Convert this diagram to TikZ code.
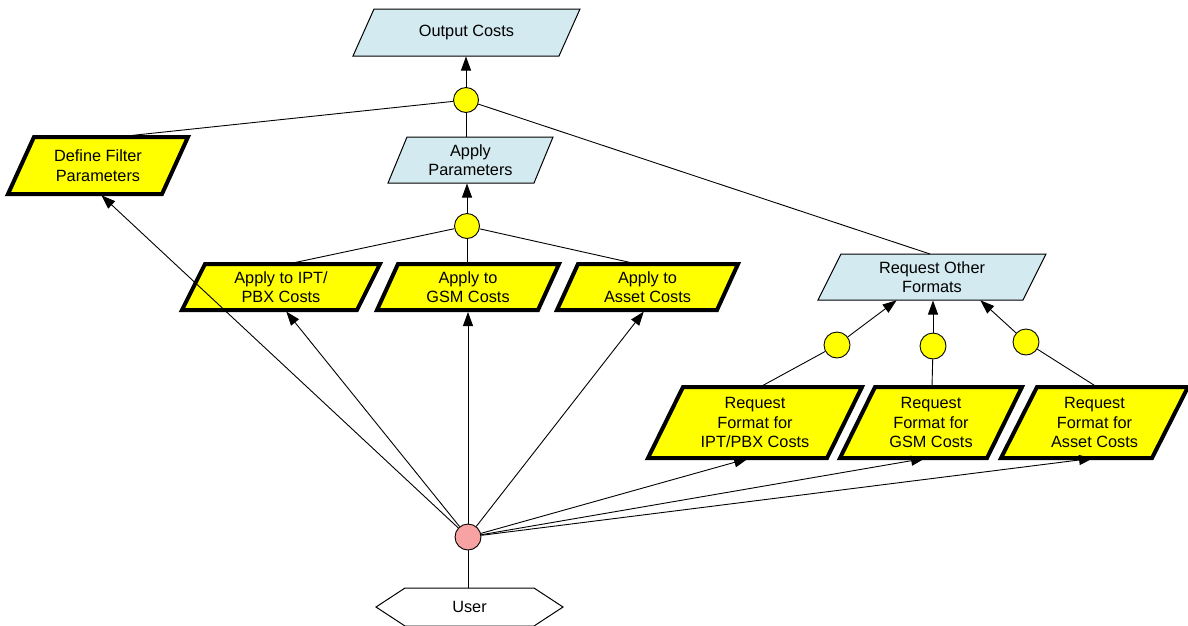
\documentclass[tikz,border=0pt]{standalone}
\usepackage{fontspec}
\setmainfont{Liberation Sans}
\usetikzlibrary{arrows.meta,calc}
\pgfdeclarelayer{background}
\pgfsetlayers{background,main}

\definecolor{taskyellow}{RGB}{255,255,0}
\definecolor{datablue}{RGB}{211,234,240}
\definecolor{actorpink}{RGB}{247,163,163}

% parallelogram drawn on the bounding box of a node: #1 node, #2 slant, #3 style
\newcommand\drawpara[3]{%
  \path[#3] ($(#1.north west)+(#2,0)$) -- (#1.north east)
    -- ($(#1.south east)+(-#2,0)$) -- (#1.south west) -- cycle;}

\tikzset{
  lbl/.style={shape=rectangle, inner sep=0pt, outer sep=0pt, align=center,
    font=\fontsize{16.3}{19.5}\selectfont},
  taskfill/.style={fill=taskyellow, draw=black, line width=4pt, line join=miter},
  datafill/.style={fill=datablue, draw=black, line width=1pt},
  junction/.style={circle, draw=black, line width=0.9pt, fill=taskyellow,
    minimum size=25pt, inner sep=0pt},
  actor/.style={circle, draw=black, line width=0.9pt, fill=actorpink,
    minimum size=26pt, inner sep=0pt},
  link/.style={draw=black, line width=0.9pt},
  flow/.style={link, -{Triangle[length=14pt,width=10pt]}},
  tothick/.style={shorten >=2pt},
}

\begin{document}
\begin{tikzpicture}[x=1pt,y=-1pt]
\useasboundingbox (0,0) rectangle (1188,625);

% data nodes
\node[lbl, minimum width=227pt, minimum height=47pt] (out) at (466.5,32.5) {Output Costs};
\node[lbl, minimum width=165pt, minimum height=46pt] (app) at (470.5,160) {Apply\\Parameters};
\node[lbl, minimum width=228pt, minimum height=46pt] (rof) at (932,277) {Request Other\\Formats};

% task nodes
\node[lbl, minimum width=180pt, minimum height=57pt] (def) at (98,165.5) {Define Filter\\Parameters};
\node[lbl, minimum width=198pt, minimum height=46pt] (aipt) at (281,287) {Apply to IPT/\\PBX Costs};
\node[lbl, minimum width=182pt, minimum height=46pt] (agsm) at (468,287) {Apply to\\GSM Costs};
\node[lbl, minimum width=181pt, minimum height=46pt] (aast) at (647.5,287) {Apply to\\Asset Costs};
\node[lbl, minimum width=214pt, minimum height=71pt] (ript) at (755,422.5) {Request\\Format for\\IPT/PBX Costs};
\node[lbl, minimum width=182pt, minimum height=71pt] (rgsm) at (931,422.5) {Request\\Format for\\GSM Costs};
\node[lbl, minimum width=187pt, minimum height=71pt] (rast) at (1094.5,422.5) {Request\\Format for\\Asset Costs};

% actor
\node[lbl, minimum width=187pt, minimum height=38pt] (user) at (469.5,607) {User};

% junctions
\node[junction] (j1) at (466,100) {};
\node[junction] (j2) at (467,226) {};
\node[junction, minimum size=26pt] (k1) at (837,345) {};
\node[junction, minimum size=26pt] (k2) at (933,346) {};
\node[junction, minimum size=26pt] (k3) at (1026,342) {};
\node[actor] (usr) at (468,537) {};

\begin{pgfonlayer}{background}
  \drawpara{out}{21}{datafill}
  \drawpara{app}{19}{datafill}
  \drawpara{rof}{23}{datafill}
  \drawpara{def}{26}{taskfill}
  \drawpara{aipt}{23}{taskfill}
  \drawpara{agsm}{21}{taskfill}
  \drawpara{aast}{21}{taskfill}
  \drawpara{ript}{35}{taskfill}
  \drawpara{rgsm}{35}{taskfill}
  \drawpara{rast}{36}{taskfill}
  \path[fill=white, draw=black, line width=1pt] (user.west)
    -- ($(user.north west)+(29,0)$) -- ($(user.north east)+(-29,0)$)
    -- (user.east) -- ($(user.south east)+(-29,0)$)
    -- ($(user.south west)+(29,0)$) -- cycle;
\end{pgfonlayer}

% top junction
\draw[flow, shorten >=0.5pt] (j1) -- (j1 |- out.south);
\draw[link] (j1) -- (j1 |- app.north);
\draw[link, tothick] (j1) -- ($(def.north)+(19,0)$);
\draw[link] (j1) -- ($(rof.north)+(-2,0)$);

% apply junction
\draw[flow, shorten >=0.5pt] (j2) -- (j2 |- app.south);
\draw[link, tothick] (j2) -- ($(aipt.north)+(7,0)$);
\draw[link, tothick] (j2) -- (j2 |- agsm.north);
\draw[link, tothick] (j2) -- ($(aast.north)+(-10.5,0)$);

% format junctions
\draw[flow, shorten >=0.5pt] (k1) -- ($(rof.south)+(-35,0)$);
\draw[flow, shorten >=0.5pt] (k2) -- (k2 |- rof.south);
\draw[flow, shorten >=0.5pt] (k3) -- ($(rof.south)+(48,0)$);
\draw[link, tothick] (k1) -- ($(ript.north)+(5,0)$);
\draw[link, tothick] (k2) -- ($(rgsm.north)+(1,0)$);
\draw[link, tothick] (k3) -- ($(rast.north)+(2.5,0)$);

% user links
\draw[link] (usr) -- (usr |- user.north);
\draw[flow, tothick] (usr) -- ($(def.south)+(2,0)$);
\draw[flow, tothick] (usr) -- ($(aipt.south)+(4,0)$);
\draw[flow, tothick] (usr) -- (usr |- agsm.south);
\draw[flow, tothick] (usr) -- ($(aast.south)+(-2.5,0)$);
\draw[flow, tothick] (usr) -- ($(ript.south)+(-5,0)$);
\draw[flow, tothick] (usr) -- ($(rgsm.south)+(-4,0)$);
\draw[flow, tothick] (usr) -- ($(rast.south)+(0.5,0)$);
\end{tikzpicture}
\end{document}
